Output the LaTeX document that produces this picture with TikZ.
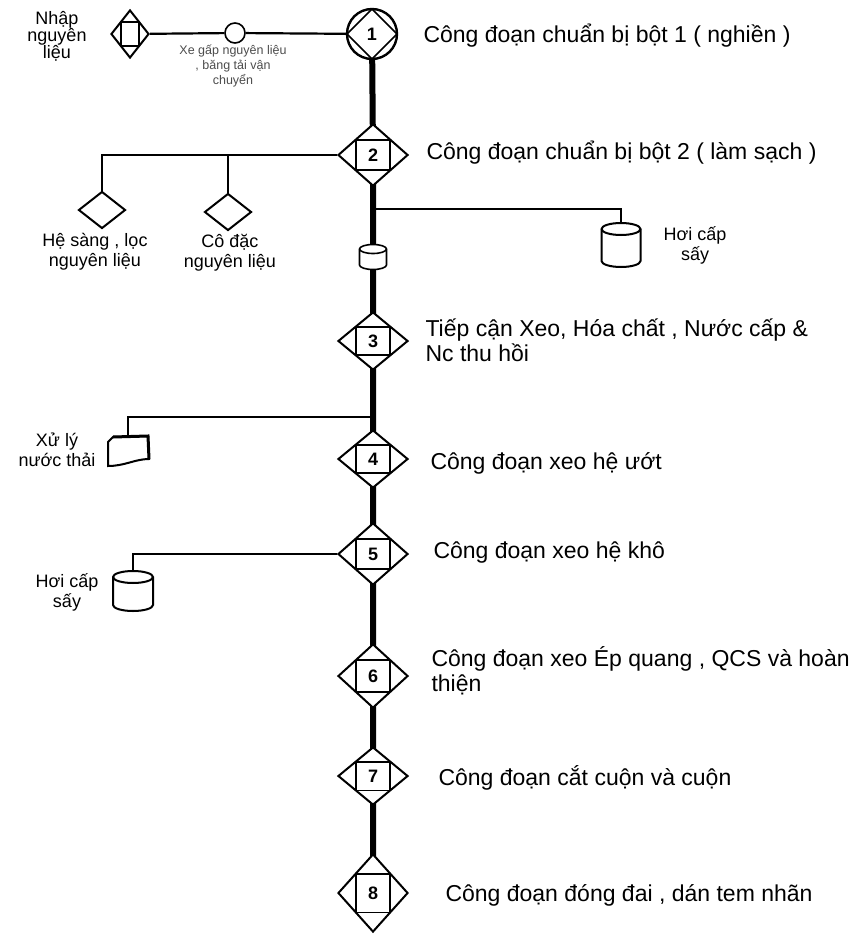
\documentclass[tikz,border=0pt]{standalone}
\usepackage{fontspec}
\setmainfont{Liberation Sans}
\usetikzlibrary{shapes.geometric, calc, backgrounds}

\begin{document}
\begin{tikzpicture}[x=1pt,y=-1pt,
    stage/.style={diamond,draw,line width=2pt,fill=white,inner sep=0pt,
                  minimum width=70pt,minimum height=62pt,font=\fontsize{18}{20}\selectfont,
                  path picture={\draw[line width=1.6pt]
                    ($(path picture bounding box.center)!0.5!(path picture bounding box.north west)$)
                    rectangle
                    ($(path picture bounding box.center)!0.5!(path picture bounding box.south east)$);}},
    small/.style={diamond,draw,line width=2pt,fill=white,inner sep=0pt,
                  minimum width=47pt,minimum height=37pt},
    tankbox/.style={rectangle,inner sep=0pt,outer sep=0pt},
    tankline/.style={line width=2pt,fill=white},
    step text/.style={anchor=west,align=left,font=\fontsize{23}{25}\selectfont},
    note/.style={align=center,font=\fontsize{18}{20}\selectfont},
    spine/.style={line width=6pt},
    branch/.style={line width=2.2pt}
  ]
    \useasboundingbox (0,0) rectangle (859,934);

    % top row
    \node[note,font=\fontsize{18}{17}\selectfont] (nhap) at (57,36) {Nhập\\nguyên\\liệu};
    \node[stage,minimum width=38pt,minimum height=48pt] (nl) at (130,34) {};
    \node[circle,draw,line width=1.6pt,fill=white,minimum size=20pt,inner sep=0pt] (xc) at (235,33) {};
    \node[align=center,font=\fontsize{12.5}{15}\selectfont,text=black!70] (xcl) at (233,66)
      {Xe gấp nguyên liệu\\, băng tải vận\\chuyển};
    \node[circle,draw,line width=2.4pt,fill=white,minimum size=50pt,inner sep=0pt,
          font=\fontsize{18}{20}\selectfont,
          path picture={\draw[line width=1.6pt] (path picture bounding box.north)
            -- (path picture bounding box.east) -- (path picture bounding box.south)
            -- (path picture bounding box.west) -- cycle;}] (s1) at (372,34) {\textbf{1}};
    \node[step text] (t1) at (420,36) {Công đoạn chuẩn bị bột 1 ( nghiền )};

    % stages on the main line
    \node[stage] (s2) at (373,155) {\textbf{2}};
    \node[tankbox,minimum width=27pt,minimum height=25pt] (c0) at (373,257) {};
    \node[stage,minimum height=58pt] (s3) at (373,341) {\textbf{3}};
    \node[stage,minimum height=58pt] (s4) at (373,459) {\textbf{4}};
    \node[stage] (s5) at (373,554) {\textbf{5}};
    \node[stage,minimum height=64pt] (s6) at (373,676) {\textbf{6}};
    \node[stage,minimum height=58pt] (s7) at (373,776) {\textbf{7}};
    \node[stage,minimum height=78pt] (s8) at (373,893) {\textbf{8}};

    \node[step text] (t2) at (423,153) {Công đoạn chuẩn bị bột 2 ( làm sạch )};
    \node[step text] (t3) at (422,340) {Tiếp cận Xeo, Hóa chất , Nước cấp \&\\Nc thu hồi};
    \node[step text] (t4) at (427,463) {Công đoạn xeo hệ ướt};
    \node[step text] (t5) at (430,553) {Công đoạn xeo hệ khô};
    \node[step text] (t6) at (428,671) {Công đoạn xeo Ép quang , QCS và hoàn\\thiện};
    \node[step text] (t7) at (435,778) {Công đoạn cắt cuộn và cuộn};
    \node[step text] (t8) at (442,895) {Công đoạn đóng đai , dán tem nhãn};

    % side equipment
    \node[small] (d1) at (102,210) {};
    \node[note] (d1l) at (95,252) {Hệ sàng , lọc\\nguyên liệu};
    \node[small] (d2) at (228,212) {};
    \node[note] (d2l) at (230,253) {Cô đặc\\nguyên liệu};
    \node[tankbox,minimum width=39pt,minimum height=44pt] (h1) at (621,245) {};
    \node[note] (h1l) at (695,245) {Hơi cấp\\sấy};
    \node[tankbox,minimum width=40pt,minimum height=40pt] (h2) at (133,591) {};
    \node[note] (h2l) at (67,592) {Hơi cấp\\sấy};
    \node[note] (xll) at (57,450) {Xử lý\\nước thải};
    \coordinate (xl) at (128,436);
    \draw[line width=2pt,fill=white] (108,442) -- (113,437) -- (148,436) -- (149,459)
      .. controls (135,459) and (125,466) .. (108,466) -- cycle;
    \draw[line width=3pt] (113,437) -- (148,436) -- (149,459);

    \coordinate (j2) at (228,155);
    \coordinate (jh) at (373,209);
    \coordinate (jx) at (373,417);

    % connectors
    \begin{scope}[on background layer]
      \draw[spine] (s1.center) -- (s2.center) -- (c0.center) -- (s3.center) -- (s4.center)
        -- (s5.center) -- (s6.center) -- (s7.center) -- (s8.center);
    \end{scope}
    \draw[branch] (nl) -- (xc) -- (s1);
    \draw[branch] (s2) -| (d1);
    \draw[branch] (j2) -- (d2);
    \draw[branch] (jh) -| (h1);
    \draw[branch] (jx) -| (xl);
    \draw[branch] (s5) -| (h2);

    % tanks
    \foreach \t/\rx/\ry/\lw in {h1/19.5/6/2pt, h2/20/6/2pt, c0/13.5/4.5/1.6pt} {
      \draw[tankline,line width=\lw] ($(\t.north west)+(0,\ry)$) -- ($(\t.south west)+(0,-\ry)$)
        arc[start angle=180,end angle=0,x radius=\rx,y radius=\ry]
        -- ($(\t.north east)+(0,\ry)$)
        arc[start angle=0,end angle=-180,x radius=\rx,y radius=\ry] -- cycle;
      \draw[line width=\lw] ($(\t.north west)+(0,\ry)$)
        arc[start angle=180,end angle=0,x radius=\rx,y radius=\ry];
    }
\end{tikzpicture}
\end{document}
